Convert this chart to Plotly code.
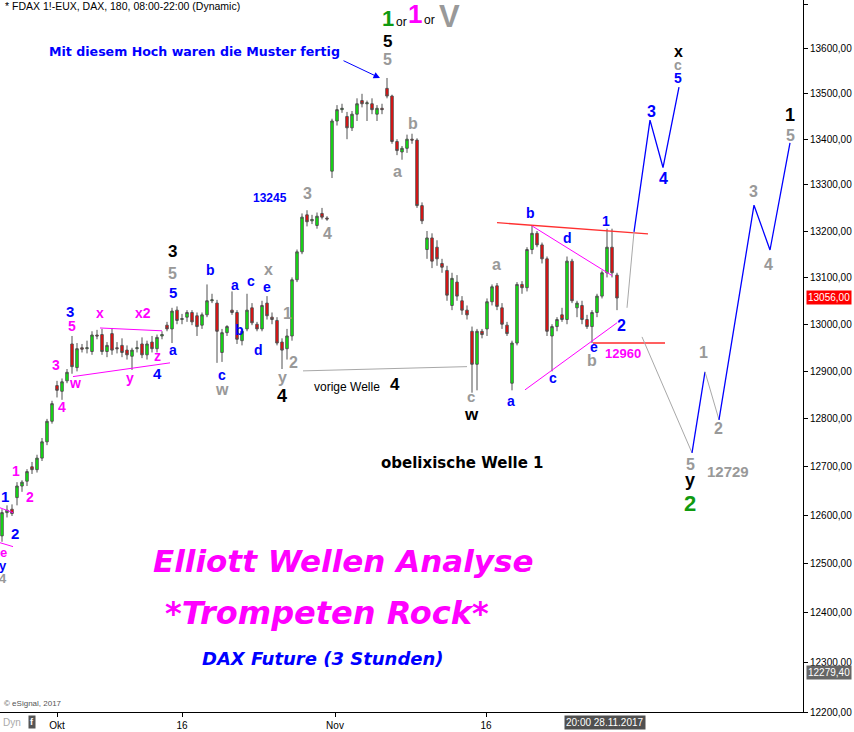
import math
import plotly.graph_objects as go

# ---------------- candle data (FDAX, 3-hour bars) ----------------
opens = [12557, 12605, 12612, 12636, 12660, 12670, 12700, 12694, 12718, 12752,
         12795, 12870, 12858, 12880, 12958, 12908, 12950, 12948, 12942, 12977,
         12978, 12942, 12980, 12950, 12955, 12945, 12932, 12948, 12958, 12935,
         12962, 12948, 12975, 12998, 12990, 13030, 13010, 13015, 13025, 13018,
         12998, 13020, 13050, 13045, 12940, 12982, 13030, 13025, 12965, 12990,
         13035, 13000, 12990, 13045, 13015, 13008, 12962, 12948, 12975, 13095,
         13155, 13235, 13222, 13212, 13238, 13228, 13330, 13440, 13465, 13450,
         13425, 13455, 13485, 13478, 13478, 13455, 13468, 13512, 13495, 13395,
         13372, 13380, 13400, 13398, 13255, 13160, 13185, 13165, 13130, 13115,
         13040, 13090, 13050, 13030, 12985, 12915, 12985, 12990, 13048, 13082,
         13035, 12998, 12875, 12960, 13085, 13078, 13160, 13195, 13170, 13140,
         12975, 12995, 13020, 13010, 13135, 13035, 13040, 13010, 12995, 13025,
         13060, 13110, 13165, 13105]
highs = [12612, 12620, 12622, 12668, 12672, 12695, 12710, 12725, 12760, 12800,
         12838, 12880, 12885, 12905, 12975, 12960, 12958, 12965, 12985, 12988,
         12990, 12962, 12992, 12962, 12970, 12955, 12950, 12965, 12972, 12965,
         12975, 12978, 12985, 13005, 13035, 13038, 13022, 13030, 13030, 13025,
         13025, 13085, 13065, 13052, 12990, 12998, 13070, 13030, 12990, 13065,
         13045, 13005, 13050, 13060, 13025, 13015, 12970, 12990, 13100, 13160,
         13238, 13245, 13235, 13240, 13250, 13232, 13445, 13475, 13478, 13460,
         13462, 13490, 13500, 13485, 13490, 13475, 13478, 13535, 13498, 13400,
         13385, 13410, 13412, 13402, 13262, 13200, 13195, 13180, 13140, 13125,
         13110, 13105, 13060, 13040, 12995, 12990, 12990, 13055, 13085, 13088,
         13045, 13005, 12965, 13090, 13092, 13165, 13213, 13200, 13175, 13145,
         13000, 13015, 13035, 13145, 13140, 13050, 13050, 13020, 13030, 13065,
         13115, 13205, 13205, 13110]
lows = [12545, 12595, 12598, 12620, 12648, 12660, 12685, 12688, 12712, 12745,
        12790, 12845, 12840, 12875, 12895, 12900, 12940, 12938, 12935, 12968,
        12935, 12930, 12935, 12938, 12930, 12925, 12903, 12940, 12928, 12925,
        12940, 12940, 12968, 12985, 12960, 13000, 13000, 13005, 12998, 12975,
        12990, 13015, 13045, 12918, 12920, 12975, 13020, 12958, 12955, 12985,
        12998, 12985, 12985, 13010, 13000, 12955, 12905, 12925, 12965, 13090,
        13150, 13210, 13215, 13205, 13225, 13222, 13315, 13430, 13458, 13400,
        13418, 13440, 13470, 13440, 13455, 13440, 13455, 13490, 13390, 13365,
        13355, 13370, 13390, 13250, 13215, 13140, 13120, 13125, 13110, 13050,
        13030, 13050, 13020, 13010, 12855, 12860, 12970, 12975, 13040, 13030,
        12990, 12975, 12860, 12955, 13065, 13070, 13150, 13165, 13130, 12975,
        12900, 12985, 13005, 13000, 13045, 13015, 13000, 12990, 12960, 13015,
        13055, 13100, 13100, 13030]
closes = [12605, 12610, 12603, 12660, 12668, 12690, 12694, 12718, 12752, 12795,
          12832, 12860, 12878, 12898, 12910, 12948, 12947, 12950, 12977, 12975,
          12942, 12955, 12945, 12948, 12940, 12935, 12945, 12950, 12935, 12958,
          12948, 12972, 12978, 12990, 13028, 13008, 13012, 13025, 13005, 12995,
          13020, 13050, 13052, 12985, 12982, 12995, 13025, 12968, 12985, 13030,
          13003, 12990, 13040, 13018, 13010, 12960, 12945, 12975, 13095, 13155,
          13230, 13220, 13225, 13232, 13230, 13226, 13440, 13465, 13468, 13425,
          13455, 13478, 13478, 13480, 13465, 13468, 13465, 13495, 13395, 13375,
          13380, 13400, 13398, 13255, 13222, 13185, 13135, 13140, 13122, 13062,
          13098, 13060, 13030, 13020, 12915, 12985, 12978, 13048, 13080, 13038,
          13000, 12980, 12960, 13085, 13078, 13160, 13195, 13170, 13140, 12985,
          12995, 13010, 13010, 13135, 13050, 13045, 13010, 12995, 13025, 13060,
          13110, 13165, 13110, 13056]
bar_index = list(range(len(opens)))

# ---------------- axes ----------------
x_tick_pos = [11, 36, 66.6, 96.8]
x_tick_text = ["Okt", "16", "Nov", "16"]
y_tick_vals = [12200, 12300, 12400, 12500, 12600, 12700, 12800, 12900,
               13000, 13100, 13200, 13300, 13400, 13500, 13600, 13700]
y_tick_text = ["12200,00", "12300,00", "12400,00", "12500,00", "12600,00",
               "12700,00", "12800,00", "12900,00", "13000,00", "13100,00",
               "13200,00", "13300,00", "13400,00", "13500,00", "13600,00",
               "13700,00"]
last_price = 13056.00
last_price_text = "13056,00"
low_mark_price = 12279.40
low_mark_text = "12279,40"

# ---------------- drawn lines (bar index, price) ----------------
tl_left_up_x, tl_left_up_y = [-0.4, 2.2], [12615, 12605]
tl_left_dn_x, tl_left_dn_y = [-0.4, 2.2], [12543, 12535]
tl_xx2_x, tl_xx2_y = [19.6, 32.0], [12992, 12986]
tl_wy_x, tl_wy_y = [14.2, 33.6], [12889, 12918]
tl_prev4_x, tl_prev4_y = [60.2, 93.0], [12901, 12910]
tl_top_x, tl_top_y = [99.0, 129.2], [13218, 13194]
tl_bd_x, tl_bd_y = [106.0, 122.0], [13211, 13104]
tl_ae_x, tl_ae_y = [104.6, 123.0], [12861, 13003]
tl_12960_x, tl_12960_y = [118.2, 132.6], [12960, 12960]

proj_gray0_x, proj_gray0_y = [125.0, 126.4], [13035, 13198]
proj_blue1_x, proj_blue1_y = [126.4, 129.6, 132.2, 135.4], [13198, 13442, 13338, 13515]
proj_gray1_x, proj_gray1_y = [128.0, 138.0], [12973, 12729]
proj_blue2_x, proj_blue2_y = [138.0, 140.6], [12729, 12899]
proj_gray2_x, proj_gray2_y = [140.6, 143.4], [12899, 12798]
proj_blue3_x, proj_blue3_y = [143.4, 150.4, 153.6, 157.6], [12798, 13256, 13159, 13392]

BLUE = "#0000ff"
MAG = "#ff00ff"
GRAY = "#999999"
BLACK = "#000000"
GREEN = "#109a10"
FONT = "Liberation Sans, Arial, sans-serif"
WIDE = "DejaVu Sans, Verdana, sans-serif"

PLOT_W, PLOT_H = 803, 712


def paper(px, py):
    return px / PLOT_W, 1 - py / PLOT_H


fig = go.Figure()

fig.add_trace(go.Candlestick(
    x=bar_index, open=opens, high=highs, low=lows, close=closes,
    increasing=dict(line=dict(color="#505050", width=1), fillcolor="#00ff00"),
    decreasing=dict(line=dict(color="#505050", width=1), fillcolor="#ff0000"),
    whiskerwidth=0, hoverinfo="skip", showlegend=False))


def add_line(xs, ys, color, width=1.0):
    fig.add_trace(go.Scatter(x=xs, y=ys, mode="lines",
                             line=dict(color=color, width=width),
                             hoverinfo="skip", showlegend=False))


add_line(tl_left_up_x, tl_left_up_y, MAG)
add_line(tl_left_dn_x, tl_left_dn_y, MAG)
add_line(tl_xx2_x, tl_xx2_y, MAG)
add_line(tl_wy_x, tl_wy_y, MAG)
add_line(tl_prev4_x, tl_prev4_y, "#a8a8a8")
add_line(tl_top_x, tl_top_y, "#ff3030", 1.3)
add_line(tl_bd_x, tl_bd_y, MAG)
add_line(tl_ae_x, tl_ae_y, MAG)
add_line(tl_12960_x, tl_12960_y, "#ff6060", 2)
add_line(proj_gray0_x, proj_gray0_y, "#a8a8a8")
add_line(proj_blue1_x, proj_blue1_y, BLUE, 1.3)
add_line(proj_gray1_x, proj_gray1_y, "#a8a8a8")
add_line(proj_blue2_x, proj_blue2_y, BLUE, 1.3)
add_line(proj_gray2_x, proj_gray2_y, "#a8a8a8")
add_line(proj_blue3_x, proj_blue3_y, BLUE, 1.3)

# ---------------- wave labels (pixel positions) ----------------
labels = [
    ("1", 5, 497, BLUE, 15), ("2", 15, 533, BLUE, 15), ("e", 3, 552, MAG, 13),
    ("y", 3, 565, BLUE, 13), ("4", 3, 578, GRAY, 13), ("1", 16, 471, MAG, 14),
    ("2", 30, 497, MAG, 14), ("4", 62, 407, MAG, 14), ("3", 56, 365, MAG, 14),
    ("5", 72, 326, MAG, 14), ("3", 70, 311, BLUE, 15), ("w", 75, 383, MAG, 14),
    ("x", 100, 313, MAG, 14), ("x2", 143, 313, MAG, 14), ("y", 130, 378, MAG, 14),
    ("z", 157, 356, MAG, 14), ("4", 157, 373, BLUE, 15), ("a", 173, 350, BLUE, 14),
    ("5", 173, 293, BLUE, 15), ("5", 172, 273, GRAY, 16), ("3", 172, 252, BLACK, 17),
    ("b", 210, 270, BLUE, 14), ("c", 222, 375, BLUE, 14), ("w", 222, 390, GRAY, 16),
    ("a", 235, 285, BLUE, 14), ("b", 240, 330, BLUE, 14), ("c", 251, 281, BLUE, 14),
    ("d", 258, 350, BLUE, 14), ("e", 267, 287, BLUE, 14), ("x", 268, 269, GRAY, 16),
    ("1", 287, 313, GRAY, 16), ("2", 293, 362, GRAY, 16), ("y", 282, 377, GRAY, 16),
    ("4", 282, 396, BLACK, 18), ("13245", 270, 198, BLUE, 12), ("3", 307, 193, GRAY, 16),
    ("4", 327, 233, GRAY, 16), ("4", 395, 384, BLACK, 17),
    ("1", 388, 18, GREEN, 22), ("1", 415, 14, MAG, 26), ("V", 449, 16, GRAY, 31),
    ("5", 387, 41, BLACK, 17), ("5", 387, 60, GRAY, 16), ("a", 397, 171, GRAY, 16),
    ("b", 413, 124, GRAY, 16), ("a", 496, 265, GRAY, 16), ("c", 471, 397, GRAY, 15),
    ("w", 471, 415, BLACK, 17), ("a", 511, 401, BLUE, 14), ("b", 530, 213, BLUE, 14),
    ("c", 553, 378, BLUE, 14), ("d", 567, 238, BLUE, 14), ("e", 594, 347, BLUE, 14),
    ("b", 592, 360, GRAY, 16), ("1", 606, 221, BLUE, 14), ("2", 621, 326, BLUE, 16),
    ("12960", 623, 353, MAG, 13), ("3", 651, 112, BLUE, 16), ("4", 663, 178, BLUE, 16),
    ("x", 678, 51, BLACK, 16), ("c", 678, 65, GRAY, 14), ("5", 678, 78, BLUE, 14),
    ("1", 703, 352, GRAY, 16), ("2", 718, 428, GRAY, 16), ("5", 690, 464, GRAY, 16),
    ("y", 690, 480, BLACK, 18), ("2", 690, 503, GREEN, 22), ("12729", 728, 471, GRAY, 15),
    ("3", 753, 191, GRAY, 16), ("4", 768, 265, GRAY, 16), ("1", 790, 115, BLACK, 18),
    ("5", 790, 135, GRAY, 16),
]
wide_labels = [
    ("Mit diesem Hoch waren die Muster fertig", 194, 52, BLUE, 12.6),
    ("obelixische Welle 1", 462, 463, BLACK, 15),
]
plain_labels = [
    ("or", 401, 22, BLACK, 12), ("or", 429, 20, BLACK, 12),
    ("vorige Welle", 347, 387, BLACK, 12),
]
italic_labels = [
    ("Elliott Wellen Analyse", 343, 561, MAG, 31),
    ("*Trompeten Rock*", 327, 613, MAG, 32),
    ("DAX Future (3 Stunden)", 323, 658, BLUE, 18),
]

annotations = []
for t, px, py, col, sz in labels:
    xp, yp = paper(px, py)
    annotations.append(dict(text=f"<b>{t}</b>", x=xp, y=yp, xref="paper", yref="paper",
                            xanchor="center", yanchor="middle", showarrow=False,
                            font=dict(family=FONT, size=sz, color=col)))
for t, px, py, col, sz in wide_labels:
    xp, yp = paper(px, py)
    annotations.append(dict(text=f"<b>{t}</b>", x=xp, y=yp, xref="paper", yref="paper",
                            xanchor="center", yanchor="middle", showarrow=False,
                            font=dict(family=WIDE, size=sz, color=col)))
for t, px, py, col, sz in plain_labels:
    xp, yp = paper(px, py)
    annotations.append(dict(text=t, x=xp, y=yp, xref="paper", yref="paper",
                            xanchor="center", yanchor="middle", showarrow=False,
                            font=dict(family=FONT, size=sz, color=col)))
for t, px, py, col, sz in italic_labels:
    xp, yp = paper(px, py)
    annotations.append(dict(text=f"<b><i>{t}</i></b>", x=xp, y=yp, xref="paper", yref="paper",
                            xanchor="center", yanchor="middle", showarrow=False,
                            font=dict(family=WIDE, size=sz, color=col)))

# arrow pointing at the top
annotations.append(dict(x=75.6, y=math.log10(13535), xref="x", yref="y", text="",
                        showarrow=True, arrowhead=2, arrowsize=1.3, arrowwidth=1,
                        arrowcolor=BLUE, ax=-38, ay=-18))

# header / footer texts
xp, yp = paper(3, 6)
annotations.append(dict(text="* FDAX 1!-EUX, DAX, 180, 08:00-22:00 (Dynamic)", x=xp, y=yp,
                        xref="paper", yref="paper", xanchor="left", yanchor="middle",
                        showarrow=False, font=dict(family=FONT, size=10.5, color=BLACK)))
xp, yp = paper(2, 703)
annotations.append(dict(text="© eSignal, 2017", x=xp, y=yp, xref="paper", yref="paper",
                        xanchor="left", yanchor="middle", showarrow=False,
                        font=dict(family=FONT, size=8, color="#555555")))
xp, yp = paper(1, 722)
annotations.append(dict(text="Dyn", x=xp, y=yp, xref="paper", yref="paper",
                        xanchor="left", yanchor="middle", showarrow=False,
                        font=dict(family=FONT, size=10, color="#aaaaaa")))
xp, yp = paper(32, 722)
annotations.append(dict(text="<b>f</b>", x=xp, y=yp, xref="paper", yref="paper",
                        xanchor="center", yanchor="middle", showarrow=False,
                        bgcolor="#555555", borderpad=1,
                        font=dict(family=FONT, size=9, color="white")))
xp, yp = paper(605, 722)
annotations.append(dict(text="20:00 28.11.2017", x=xp, y=yp, xref="paper", yref="paper",
                        xanchor="center", yanchor="middle", showarrow=False,
                        bgcolor="#505050", borderpad=1,
                        font=dict(family=FONT, size=10, color="white")))

# price boxes on right axis
annotations.append(dict(text=last_price_text, x=1, y=math.log10(last_price), xref="paper",
                        yref="y", xanchor="left", yanchor="middle", xshift=3, showarrow=False,
                        bgcolor="#ff0000", borderpad=1,
                        font=dict(family=FONT, size=10, color="white")))
annotations.append(dict(text=low_mark_text, x=1, y=math.log10(low_mark_price), xref="paper",
                        yref="y", xanchor="left", yanchor="middle", xshift=3, showarrow=False,
                        bgcolor="#666666", borderpad=1,
                        font=dict(family=FONT, size=10, color="white")))

fig.update_layout(
    width=854, height=732,
    margin=dict(l=0, r=51, t=0, b=20),
    paper_bgcolor="white", plot_bgcolor="white",
    showlegend=False, hovermode=False,
    annotations=annotations,
    xaxis=dict(range=[-0.4, 160.2], showgrid=False, zeroline=False,
               showline=True, linecolor=BLACK, linewidth=1,
               ticks="outside", ticklen=4, tickcolor=BLACK,
               tickvals=x_tick_pos, ticktext=x_tick_text,
               tickfont=dict(family=FONT, size=10, color=BLACK),
               rangeslider=dict(visible=False)),
    yaxis=dict(type="log", range=[math.log10(12200), math.log10(13709)],
               side="right", showgrid=False, zeroline=False,
               showline=True, linecolor=BLACK, linewidth=1,
               ticks="outside", ticklen=4, tickcolor=BLACK,
               tickvals=y_tick_vals, ticktext=y_tick_text,
               tickfont=dict(family=FONT, size=10, color=BLACK)),
)

fig.write_html("out.html",
               config={"displayModeBar": False},
               post_script="document.body.style.margin='0px';"
                           "document.body.style.overflow='hidden';")
